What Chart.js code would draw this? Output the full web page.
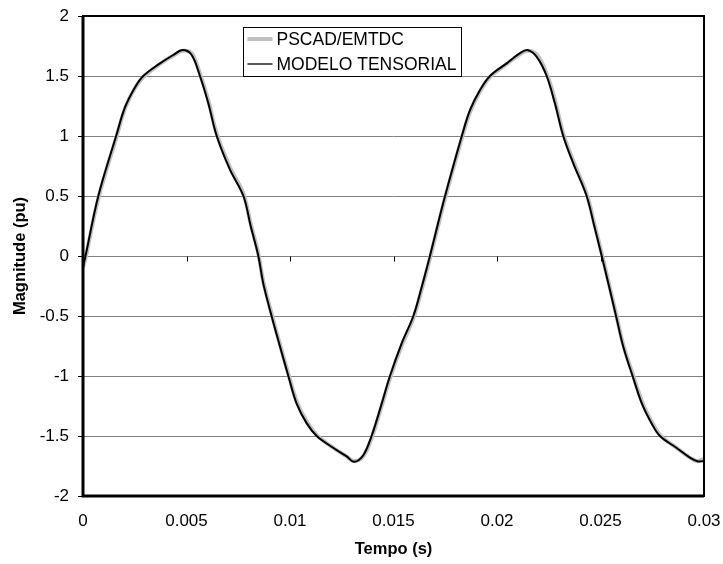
<!DOCTYPE html>
<html>
<head>
<meta charset="utf-8">
<script src="https://cdn.jsdelivr.net/npm/chart.js@4/dist/chart.umd.min.js"></script>
<style>
  html, body { margin: 0; padding: 0; background: #fff; }
  #wrap { width: 723px; height: 564px; }
</style>
</head>
<body>
<div id="wrap"><canvas id="c" width="723" height="564"></canvas></div>
<script>
// Sample instants (s)
const timeSeconds = [
  0, 0.00012, 0.00074, 0.0016, 0.00203, 0.00251, 0.00291, 0.00372, 0.00436, 0.00482,
  0.00525, 0.00565, 0.00605, 0.00646, 0.0071, 0.00775, 0.0081, 0.00847, 0.00871, 0.00911,
  0.00952, 0.00992, 0.01032, 0.01081, 0.01129, 0.0121, 0.01274, 0.01309, 0.01354, 0.01394,
  0.01443, 0.01483, 0.01539, 0.01596, 0.01636, 0.01676, 0.01712, 0.01749, 0.0183, 0.0187,
  0.01918, 0.01966, 0.02047, 0.02111, 0.02147, 0.02192, 0.0224, 0.0228, 0.0232, 0.02369,
  0.02433, 0.0247, 0.02506, 0.02538, 0.02575, 0.0261, 0.02655, 0.027, 0.02747, 0.02787,
  0.02868, 0.02932, 0.02968, 0.03
];

// PSCAD/EMTDC reference waveform (pu)
const pscadValues = [
  -0.10, -0.02, 0.48, 0.98, 1.23, 1.40, 1.49, 1.60, 1.67, 1.71,
  1.69, 1.52, 1.30, 1.02, 0.74, 0.52, 0.27, 0.02, -0.21, -0.48,
  -0.74, -0.98, -1.21, -1.38, -1.49, -1.60, -1.67, -1.71, -1.67, -1.52,
  -1.25, -1.02, -0.75, -0.52, -0.28, -0.02, 0.23, 0.48, 0.98, 1.20,
  1.37, 1.49, 1.60, 1.68, 1.71, 1.68, 1.52, 1.30, 1.02, 0.79,
  0.52, 0.27, 0.02, -0.21, -0.48, -0.74, -0.98, -1.21, -1.38, -1.49,
  -1.60, -1.68, -1.71, -1.69
];

// Tensor model waveform (pu)
const tensorModelValues = [
  -0.09, 0.00, 0.50, 1.00, 1.24, 1.405, 1.50, 1.605, 1.675, 1.717,
  1.675, 1.50, 1.275, 1.00, 0.72, 0.50, 0.25, 0.00, -0.23, -0.50,
  -0.756, -1.00, -1.23, -1.395, -1.50, -1.60, -1.67, -1.715, -1.66, -1.50,
  -1.23, -1.00, -0.73, -0.50, -0.26, 0.00, 0.25, 0.50, 1.00, 1.217,
  1.383, 1.50, 1.605, 1.69, 1.717, 1.66, 1.50, 1.27, 1.00, 0.77,
  0.50, 0.25, 0.00, -0.23, -0.50, -0.756, -1.00, -1.23, -1.395, -1.50,
  -1.60, -1.68, -1.71, -1.71
];

const seriesNames = ['PSCAD/EMTDC', 'MODELO TENSORIAL'];

const xTickValues = [0, 0.005, 0.01, 0.015, 0.02, 0.025, 0.03];
const xTickLabels = ['0', '0.005', '0.01', '0.015', '0.02', '0.025', '0.03'];
const yTickValues = [-2, -1.5, -1, -0.5, 0, 0.5, 1, 1.5, 2];
const yTickLabels = ['-2', '-1.5', '-1', '-0.5', '0', '0.5', '1', '1.5', '2'];

const FONT = "'Liberation Sans', Arial, sans-serif";

function toPoints(values) {
  return timeSeconds.map((t, i) => ({ x: t, y: values[i] }));
}

// Frame around the plot, small ticks on the zero line and the boxed legend
const frameAndLegend = {
  id: 'frameAndLegend',
  afterDraw(chart) {
    const ctx = chart.ctx;
    const a = chart.chartArea;
    const xs = chart.scales.x, ys = chart.scales.y;
    ctx.save();

    // zero-line tick marks
    const y0 = Math.round(ys.getPixelForValue(0)) + 0.5;
    ctx.strokeStyle = '#000';
    ctx.lineWidth = 1;
    ctx.beginPath();
    xTickValues.slice(1, -1).forEach(v => {
      const px = Math.round(xs.getPixelForValue(v)) + 0.5;
      ctx.moveTo(px, y0);
      ctx.lineTo(px, y0 + 5);
    });
    ctx.stroke();

    // plot frame: top/right lighter, axes heavier
    ctx.strokeStyle = '#000';
    ctx.lineWidth = 2;
    ctx.strokeRect(a.left, a.top, a.right - a.left, a.bottom - a.top);
    ctx.lineWidth = 3;
    ctx.beginPath();
    ctx.moveTo(a.left, a.top);
    ctx.lineTo(a.left, a.bottom);
    ctx.lineTo(a.right, a.bottom);
    ctx.stroke();

    // legend
    ctx.font = '17.5px ' + FONT;
    const ds = chart.data.datasets;
    const bx = Math.round(a.left + 160) + 0.5;
    const by = Math.round(a.top + 11) + 0.5;
    const w = 218;
    const h = 49;
    const sampleWidths = [4, 1.3];
    ctx.fillStyle = '#fff';
    ctx.fillRect(bx, by, w, h);
    ctx.lineWidth = 1;
    ctx.strokeStyle = '#000';
    ctx.strokeRect(bx, by, w, h);
    ds.forEach((d, i) => {
      const ry = by + 11.5 + i * 25;
      ctx.beginPath();
      ctx.strokeStyle = d.borderColor;
      ctx.lineWidth = sampleWidths[i];
      ctx.moveTo(bx + 4, ry);
      ctx.lineTo(bx + 29, ry);
      ctx.stroke();
      ctx.fillStyle = '#000';
      ctx.textBaseline = 'middle';
      ctx.textAlign = 'left';
      ctx.fillText(d.label, bx + 33, ry + 1);
    });
    ctx.restore();
  }
};

new Chart(document.getElementById('c'), {
  type: 'line',
  data: {
    datasets: [
      {
        label: seriesNames[0],
        data: toPoints(pscadValues),
        borderColor: '#c0c0c0',
        borderWidth: 4,
        pointRadius: 0,
        tension: 0.35,
        order: 2
      },
      {
        label: seriesNames[1],
        data: toPoints(tensorModelValues),
        borderColor: '#000000',
        borderWidth: 2,
        pointRadius: 0,
        tension: 0.35,
        order: 1
      }
    ]
  },
  options: {
    responsive: false,
    animation: false,
    devicePixelRatio: 1,
    layout: { padding: { top: 16, right: 19, left: 0, bottom: 0 } },
    plugins: { legend: { display: false }, tooltip: { enabled: false } },
    scales: {
      x: {
        type: 'linear',
        min: 0,
        max: 0.03,
        afterBuildTicks: s => { s.ticks = xTickValues.map(v => ({ value: v })); },
        afterFit: s => { s.height = 68; s.paddingLeft = 0; s.paddingRight = 0; },
        grid: { display: false, drawTicks: false },
        border: { display: false },
        ticks: {
          color: '#000',
          font: { family: FONT, size: 17 },
          padding: 15,
          maxRotation: 0,
          autoSkip: false,
          callback: (v, i) => xTickLabels[i]
        },
        title: {
          display: true,
          text: 'Tempo (s)',
          color: '#000',
          font: { family: FONT, size: 16.5, weight: 'bold' },
          padding: { top: 0, bottom: 5 }
        }
      },
      y: {
        min: -2,
        max: 2,
        afterBuildTicks: s => { s.ticks = yTickValues.map(v => ({ value: v })); },
        afterFit: s => { s.width = 83; s.paddingTop = 0; s.paddingBottom = 0; },
        grid: { color: '#808080', lineWidth: 1, tickColor: '#000', tickLength: 5 },
        border: { display: false },
        ticks: {
          color: '#000',
          font: { family: FONT, size: 17 },
          padding: 9,
          autoSkip: false,
          callback: (v, i) => yTickLabels[i]
        },
        title: {
          display: true,
          text: 'Magnitude (pu)',
          color: '#000',
          font: { family: FONT, size: 16.5, weight: 'bold' },
          padding: { top: 11, bottom: 0 }
        }
      }
    }
  },
  plugins: [frameAndLegend]
});
</script>
</body>
</html>
